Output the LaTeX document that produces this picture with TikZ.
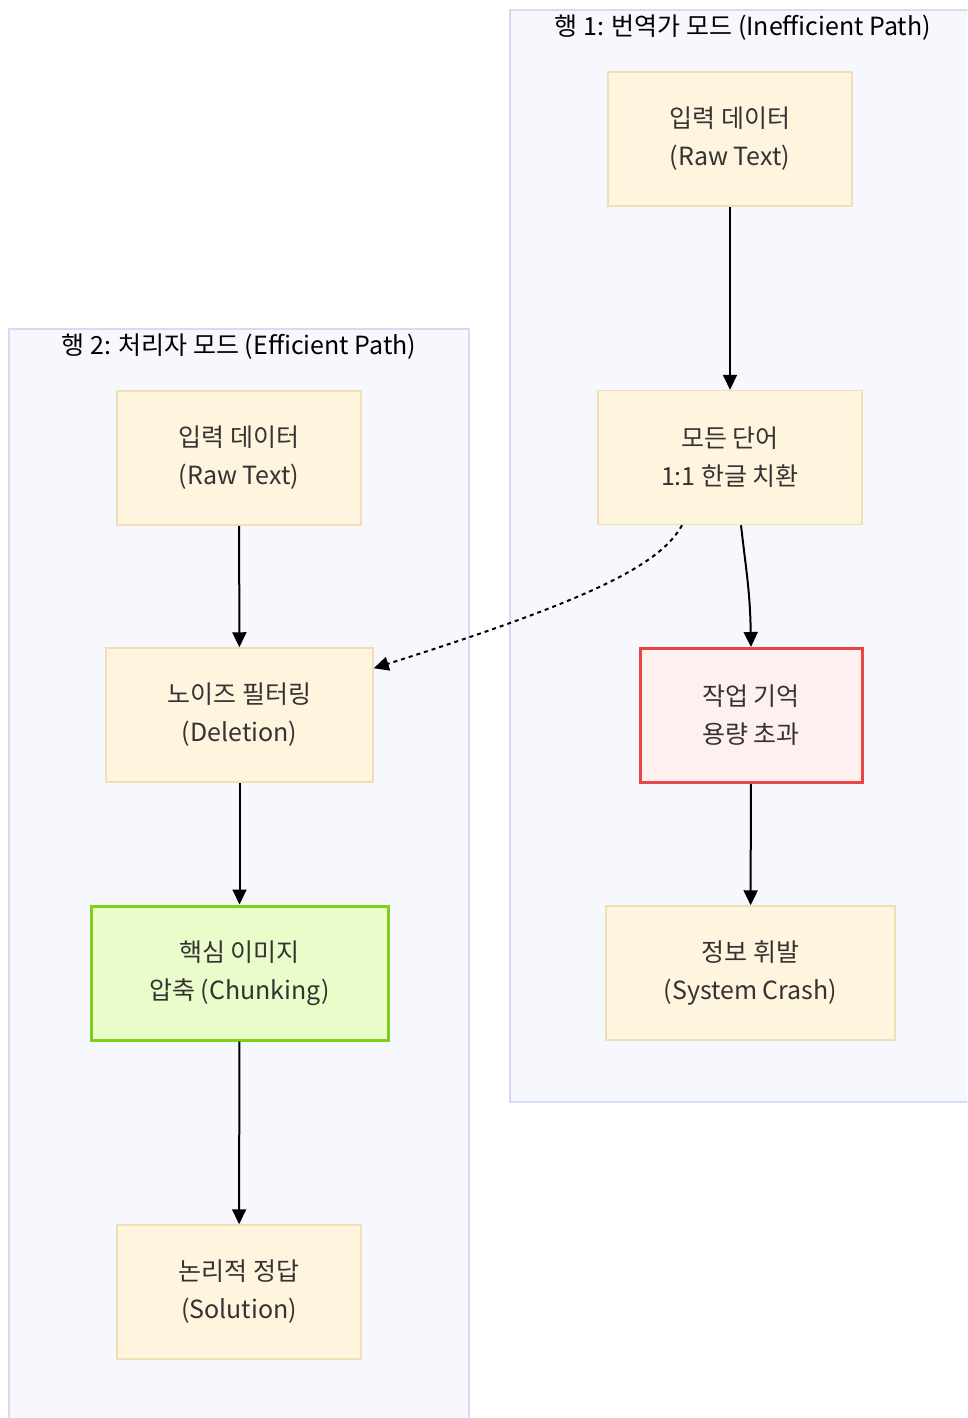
\documentclass[tikz,border=0pt]{standalone}
\usepackage{fontspec}
\setmainfont{Noto Sans CJK KR}
\usetikzlibrary{arrows.meta}
\definecolor{nodefill}{HTML}{FFF4DD}
\definecolor{nodeborder}{HTML}{F0DFB5}
\definecolor{clfill}{HTML}{F7F8FD}
\definecolor{clborder}{HTML}{D3DCF3}
\definecolor{redb}{HTML}{E84545}
\definecolor{redf}{HTML}{FFF0F0}
\definecolor{greenb}{HTML}{82CC1A}
\definecolor{greenf}{HTML}{EBFCCB}
\definecolor{txt}{HTML}{333333}
\tikzset{
  cluster/.style={draw=clborder, fill=clfill, line width=1.5pt},
  cltitle/.style={text=black, inner sep=0pt, font=\fontsize{25}{30}\selectfont},
  box/.style={draw=nodeborder, fill=nodefill, line width=1.5pt, text=txt, align=center,
    inner sep=0pt, font=\fontsize{25}{38}\selectfont, minimum height=134pt},
  redbox/.style={box, draw=redb, fill=redf, line width=3pt},
  greenbox/.style={box, draw=greenb, fill=greenf, line width=3pt},
  arr/.style={draw=black, line width=2pt, -{Triangle[length=15pt,width=14pt]}},
  dotarr/.style={arr, dash pattern=on 4pt off 4pt},
}
\begin{document}
\begin{tikzpicture}[x=1pt,y=-1pt]
\useasboundingbox (0,0) rectangle (967,1418);
\clip (0,0) rectangle (967,1418);
% clusters
\draw[cluster] (510,10) rectangle (980,1102);
\draw[cluster] (9,329) rectangle (469,1440);
\node[cltitle] (t1) at (743,28) {행 1: 번역가 모드 (Inefficient Path)};
\node[cltitle] (t2) at (239,347) {행 2: 처리자 모드 (Efficient Path)};
% right column
\node[box, minimum width=244pt] (R1) at (730,139) {입력 데이터\\(Raw Text)};
\node[box, minimum width=264pt] (R2) at (730,457.5) {모든 단어\\1:1 한글 치환};
\node[redbox, minimum width=222pt] (R3) at (751,715.5) {작업 기억\\용량 초과};
\node[box, minimum width=289pt] (R4) at (750.5,973) {정보 휘발\\(System Crash)};
% left column
\node[box, minimum width=244pt] (L1) at (239,458) {입력 데이터\\(Raw Text)};
\node[box, minimum width=267pt] (L2) at (239.5,715) {노이즈 필터링\\(Deletion)};
\node[greenbox, minimum width=297pt] (L3) at (239.5,973) {핵심 이미지\\압축 (Chunking)};
\node[box, minimum width=244pt] (L4) at (239,1292) {논리적 정답\\(Solution)};
% edges
\draw[arr] (R1) -- (R2);
\draw[arr] ([xshift=11pt]R2.south) .. controls (746,570) and (750,590) .. (R3.north);
\draw[arr] (R3) -- (R4);
\draw[arr] (L1) -- (L2);
\draw[arr] (L2) -- (L3);
\draw[arr] (L3) -- (L4);
\draw[dotarr] ([xshift=-48pt]R2.south) .. controls (660,565) and (590,600) .. ([yshift=-21pt]L2.north east);
\end{tikzpicture}
\end{document}
